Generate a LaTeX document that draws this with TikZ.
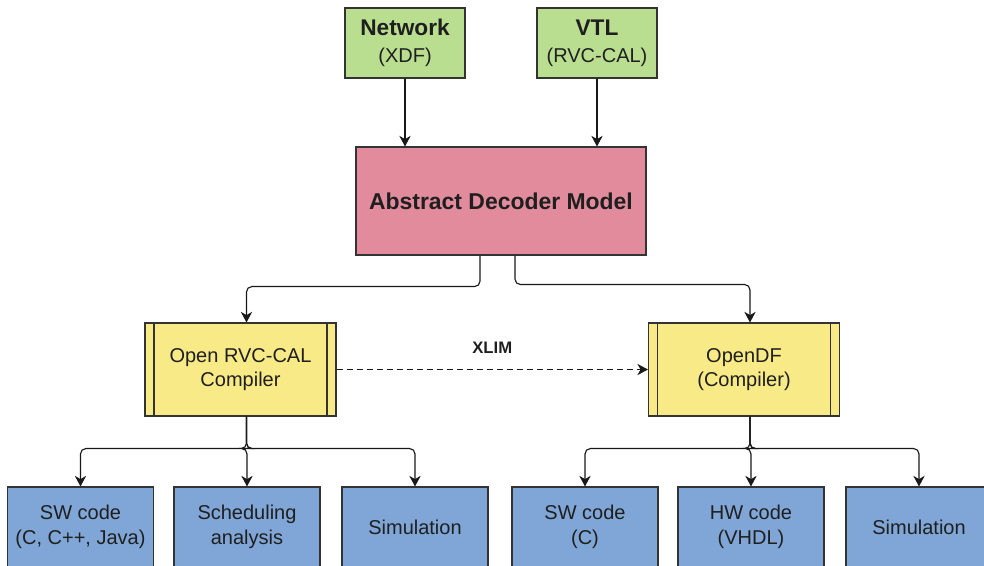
\documentclass[tikz,border=0pt]{standalone}
\usepackage{fontspec}
\setmainfont{Liberation Sans}
\usetikzlibrary{arrows.meta}

\definecolor{srcgreen}{HTML}{BADE90}
\definecolor{modelpink}{HTML}{E28B9C}
\definecolor{compyellow}{HTML}{F8EA86}
\definecolor{outblue}{HTML}{7FA6D6}

\begin{document}
\begin{tikzpicture}[x=0.75pt,y=-0.75pt,
            box/.style={draw=black!80, line width=0.8pt, align=center, inner sep=2pt, text=black!88, font=\fontsize{15}{18.5}\selectfont},
            src/.style={box, fill=srcgreen, minimum width=90pt, minimum height=52.5pt},
            model/.style={box, fill=modelpink, minimum width=217.5pt, minimum height=81pt, font=\fontsize{17.2}{20}\selectfont\bfseries},
            comp/.style={box, fill=compyellow, minimum width=143.25pt, minimum height=69.75pt,
                path picture={\draw[line width=0.8pt, draw=black!80]
                    ([xshift=6.75pt]path picture bounding box.north west) -- ([xshift=6.75pt]path picture bounding box.south west)
                    ([xshift=-6.75pt]path picture bounding box.north east) -- ([xshift=-6.75pt]path picture bounding box.south east);}},
            outbox/.style={box, fill=outblue, minimum width=109.5pt, minimum height=60pt},
            arr/.style={-{Stealth[length=8pt,width=8.5pt,inset=2.5pt]}, line width=0.85pt, draw=black!90, rounded corners=4pt}]
        \useasboundingbox (0,0) rectangle (984,565);
        \clip (0,0) rectangle (984,565);

        \node[src] (network) at (405,43) {\textbf{\fontsize{17}{20}\selectfont Network}\\[2pt](XDF)};
        \node[src] (vtl) at (597,43) {\textbf{\fontsize{17}{20}\selectfont VTL}\\[2pt](RVC-CAL)};
        \node[model] (adm) at (501,201) {Abstract Decoder Model};

        \node[comp] (orcc) at (240.5,369.5) {Open RVC-CAL\\Compiler};
        \node[comp] (opendf) at (744,369.5) {OpenDF\\(Compiler)};

        \node[outbox] (swa) at (80.5,527) {SW code\\(C, C++, Java)};
        \node[outbox] (sched) at (247,527) {Scheduling\\analysis};
        \node[outbox] (sima) at (415,527) {Simulation};
        \node[outbox] (swb) at (585,527) {SW code\\(C)};
        \node[outbox] (hw) at (751,527) {HW code\\(VHDL)};
        \node[outbox] (simb) at (919,527) {Simulation};

        \draw[arr] (network.south) -- (network.south |- adm.north);
        \draw[arr] (vtl.south) -- (vtl.south |- adm.north);

        \draw[arr] ([xshift=-15.75pt]adm.south) -- ++(0,31) -| ([xshift=4.5pt]orcc.north);
        \draw[arr] ([xshift=10.5pt]adm.south) -- ++(0,29) -| ([xshift=4.5pt]opendf.north);

        \draw[arr, dash pattern=on 4.5pt off 3pt] (orcc) -- (opendf)
            node[midway, above=11.25pt, inner sep=0pt, text=black!88, font=\fontsize{12.5}{15}\selectfont\bfseries] (xlim) {XLIM};

        \foreach \o in {swa,sched,sima}
            \draw[arr] ([xshift=4.5pt]orcc.south) -- ++(0,32) -| (\o.north);
        \foreach \o in {swb,hw,simb}
            \draw[arr] ([xshift=4.5pt]opendf.south) -- ++(0,32) -| (\o.north);
    \end{tikzpicture}
\end{document}
